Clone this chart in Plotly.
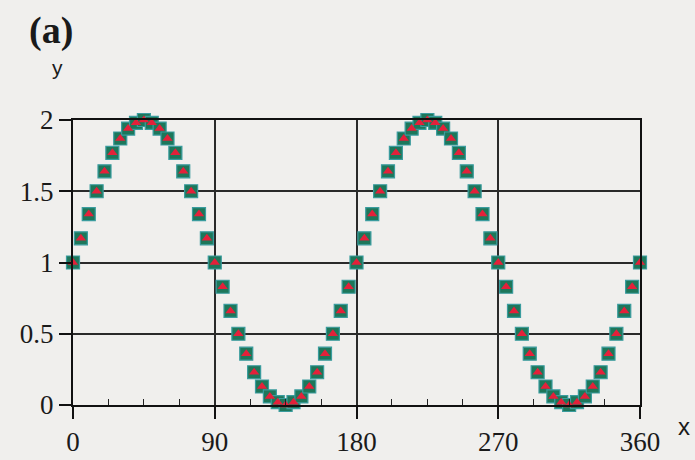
import plotly.graph_objects as go

# angle in degrees
x_deg = [0, 5, 10, 15, 20, 25, 30, 35, 40, 45, 50, 55, 60, 65, 70, 75, 80, 85,
         90, 95, 100, 105, 110, 115, 120, 125, 130, 135, 140, 145, 150, 155, 160, 165, 170, 175,
         180, 185, 190, 195, 200, 205, 210, 215, 220, 225, 230, 235, 240, 245, 250, 255, 260, 265,
         270, 275, 280, 285, 290, 295, 300, 305, 310, 315, 320, 325, 330, 335, 340, 345, 350, 355,
         360]

# reference values (squares)
y_ref = [1.00, 1.17, 1.34, 1.50, 1.64, 1.77, 1.87, 1.94, 1.98, 2.00, 1.98, 1.94, 1.87, 1.77, 1.64, 1.50, 1.34, 1.17,
         1.00, 0.83, 0.66, 0.50, 0.36, 0.23, 0.13, 0.06, 0.02, 0.00, 0.02, 0.06, 0.13, 0.23, 0.36, 0.50, 0.66, 0.83,
         1.00, 1.17, 1.34, 1.50, 1.64, 1.77, 1.87, 1.94, 1.98, 2.00, 1.98, 1.94, 1.87, 1.77, 1.64, 1.50, 1.34, 1.17,
         1.00, 0.83, 0.66, 0.50, 0.36, 0.23, 0.13, 0.06, 0.02, 0.00, 0.02, 0.06, 0.13, 0.23, 0.36, 0.50, 0.66, 0.83,
         1.00]

# computed values (triangles)
y_calc = [1.00, 1.17, 1.34, 1.50, 1.64, 1.77, 1.87, 1.94, 1.98, 2.00, 1.98, 1.94, 1.87, 1.77, 1.64, 1.50, 1.34, 1.17,
          1.00, 0.83, 0.66, 0.50, 0.36, 0.23, 0.13, 0.06, 0.02, 0.00, 0.02, 0.06, 0.13, 0.23, 0.36, 0.50, 0.66, 0.83,
          1.00, 1.17, 1.34, 1.50, 1.64, 1.77, 1.87, 1.94, 1.98, 2.00, 1.98, 1.94, 1.87, 1.77, 1.64, 1.50, 1.34, 1.17,
          1.00, 0.83, 0.66, 0.50, 0.36, 0.23, 0.13, 0.06, 0.02, 0.00, 0.02, 0.06, 0.13, 0.23, 0.36, 0.50, 0.66, 0.83,
          1.00]

x_ticks = [0, 90, 180, 270, 360]
x_minor = [22.5, 45, 67.5, 112.5, 135, 157.5, 202.5, 225, 247.5, 292.5, 315, 337.5]
y_ticks = [0, 0.5, 1, 1.5, 2]
y_tick_text = ["0", "0.5", "1", "1.5", "2"]

BG = "#f0efed"
SERIF = "Liberation Serif, Times New Roman, serif"
SANS = "Liberation Sans, Arial, sans-serif"

# plot-area margins in page pixels
ML, MR, MT, MB = 73, 55, 120, 55
W, H = 695, 460

fig = go.Figure()
fig.add_trace(go.Scatter(
    x=x_deg, y=y_ref, mode="markers", cliponaxis=False,
    marker=dict(symbol="square", size=13, color="#1d775a",
                line=dict(color="#3a9c9e", width=1.2)),
    showlegend=False,
))
fig.add_trace(go.Scatter(
    x=x_deg, y=y_calc, mode="markers", cliponaxis=False,
    marker=dict(symbol="triangle-up", size=9, color="#e3213a",
                line=dict(width=0)),
    showlegend=False,
))

axis_font = dict(family=SERIF, size=27, color="#1a1a1a")

fig.update_layout(
    width=W, height=H,
    margin=dict(l=ML, r=MR, t=MT, b=MB, autoexpand=False),
    paper_bgcolor=BG, plot_bgcolor=BG,
    font=dict(family=SERIF, color="#1a1a1a"),
    xaxis=dict(
        range=[0, 360], tickvals=x_ticks, ticktext=[str(v) for v in x_ticks],
        ticks="outside", ticklen=12, tickwidth=1.5, tickcolor="#111",
        showgrid=True, gridcolor="#2a2a2a", gridwidth=1.5,
        zeroline=False, showline=True, linecolor="#111", linewidth=2, mirror=True,
        tickfont=axis_font, automargin=False,
        minor=dict(tickvals=x_minor, ticks="inside", ticklen=6, tickwidth=1.2,
                   tickcolor="#222", showgrid=False),
    ),
    yaxis=dict(
        range=[0, 2], tickvals=y_ticks, ticktext=y_tick_text,
        ticks="outside", ticklen=12, tickwidth=1.5, tickcolor="#111",
        showgrid=True, gridcolor="#2a2a2a", gridwidth=1.5,
        zeroline=False, showline=True, linecolor="#111", linewidth=2, mirror=True,
        tickfont=axis_font, automargin=False,
    ),
)

# text labels placed in page pixels, converted to paper fractions
pw, ph = W - ML - MR, H - MT - MB
labels = [
    ("<b>(a)</b>", 51, 31, SERIF, 38),
    ("y", 57, 67, SANS, 21),
    ("x", 684, 426, SANS, 24),
]
for text, px, py, fam, size in labels:
    fig.add_annotation(
        text=text, x=(px - ML) / pw, y=(H - MB - py) / ph,
        xref="paper", yref="paper", xanchor="center", yanchor="middle",
        showarrow=False, font=dict(family=fam, size=size, color="#1a1a1a"),
    )

fig.write_html("out.html")
